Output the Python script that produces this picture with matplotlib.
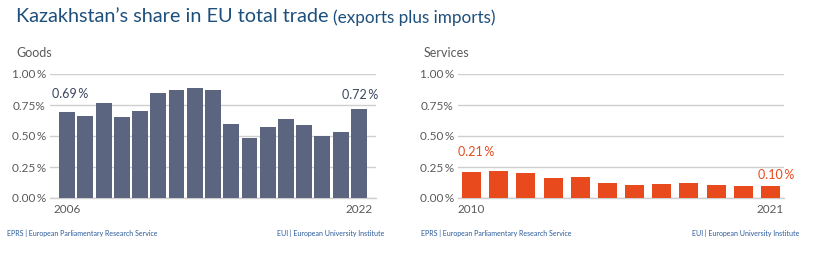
import matplotlib
matplotlib.use("Agg")
import matplotlib.pyplot as plt
from matplotlib.ticker import FixedLocator

plt.rcParams['font.family'] = ['Lato', 'DejaVu Sans']

goods_years = list(range(2006, 2023))
goods_values = [0.69, 0.66, 0.77, 0.65, 0.70, 0.85, 0.87, 0.89, 0.87, 0.60,
                0.48, 0.57, 0.64, 0.59, 0.50, 0.53, 0.72]
services_years = list(range(2010, 2022))
services_values = [0.21, 0.22, 0.20, 0.16, 0.17, 0.12, 0.105, 0.115, 0.123, 0.107, 0.10, 0.10]
y_ticks = [0.0, 0.25, 0.5, 0.75, 1.0]
y_ticklabels = ["0.00\u2009%", "0.25\u2009%", "0.50\u2009%", "0.75%", "1.00\u2009%"]

W, H = 820, 256
fig = plt.figure(figsize=(W / 100, H / 100), dpi=100)
fig.patch.set_facecolor('white')

def fx(px):
    return px / W

def fy(py):
    return 1 - py / H

title_col = '#1d4f7c'
grey_text = '#5a5a5a'
grid_col = '#cfcfcf'
foot_col = '#2a5a9a'

# Title
fig.text(fx(16), fy(17), "Kazakhstan\u2019s share in EU total trade", fontsize=14.3,
         color=title_col, va='center', ha='left')
fig.text(fx(333), fy(18), "(exports plus imports)", fontsize=12.3,
         color=title_col, va='center', ha='left')

def panel(left_px, right_px, years, values, color, label_color, width, pad, name, name_x,
          labels, foot_left, foot_right):
    ax = fig.add_axes([fx(left_px), fy(198), fx(right_px - left_px), (198 - 74) / H])
    x = list(range(len(values)))
    ax.bar(x, values, width=width, color=color, zorder=3)
    ax.set_xlim(-pad, len(values) - 1 + pad)
    ax.set_ylim(0, 1.0)
    ax.yaxis.set_major_locator(FixedLocator(y_ticks))
    ax.set_yticklabels(y_ticklabels)
    ax.tick_params(axis='y', length=0, pad=3, labelsize=8.5, labelcolor=grey_text)
    ax.set_xticks([0, len(values) - 1])
    ax.set_xticklabels([str(years[0]), str(years[-1])])
    ax.tick_params(axis='x', length=0, pad=4, labelsize=8.5, labelcolor=grey_text)
    ax.grid(axis='y', color=grid_col, linewidth=1, zorder=0)
    for s in ['top', 'right', 'left']:
        ax.spines[s].set_visible(False)
    ax.spines['bottom'].set_color(grid_col)
    ax.spines['bottom'].set_linewidth(1)
    ax.set_facecolor('none')
    for idx, dy, ha, dx in labels:
        v = values[idx]
        txt = f"{v:.2f}\u2009%"
        ax.annotate(txt, (idx, v), xytext=(dx, dy), textcoords='offset pixels',
                    ha=ha, va='center', fontsize=9, color=label_color)
    fig.text(fx(name_x), fy(53), name, fontsize=9, color=grey_text, va='center', ha='left')
    fig.text(fx(foot_left), fy(233), "EPRS | European Parliamentary Research Service",
             fontsize=5, color=foot_col, va='center', ha='left')
    fig.text(fx(foot_right), fy(233), "EUI | European University Institute",
             fontsize=5, color=foot_col, va='center', ha='right')
    return ax

panel(50, 376, goods_years, goods_values, '#5c6580', '#3b4560', 0.87, 0.94, "Goods", 16,
      [(0, 18, 'center', 3), (len(goods_values) - 1, 14, 'center', 1)], 7, 384)
panel(458, 784, services_years, services_values, '#e8491d', '#e8491d', 0.7, 0.5, "Services", 424,
      [(0, 20, 'center', 5), (len(services_values) - 1, 11, 'center', 6)], 421, 799)

fig.savefig("out.png", dpi=100, facecolor='white')
